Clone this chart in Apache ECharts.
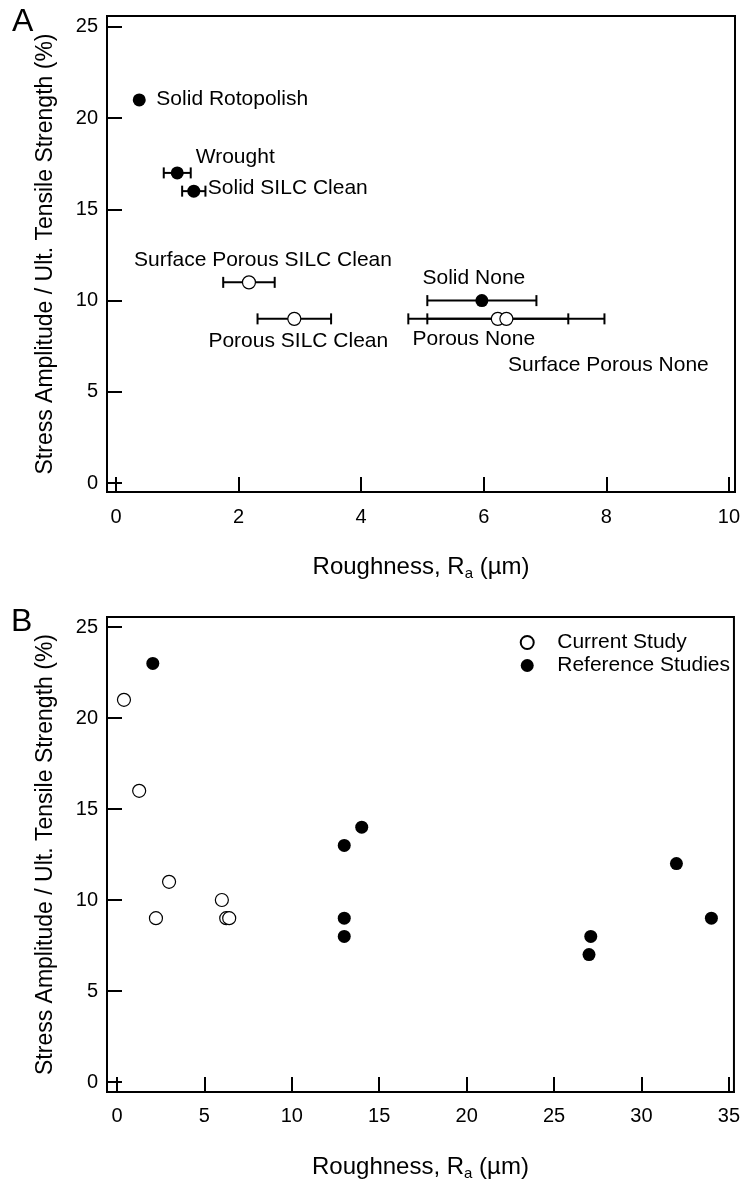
<!DOCTYPE html>
<html>
<head>
<meta charset="utf-8">
<script src="https://cdn.jsdelivr.net/npm/echarts@6/dist/echarts.min.js"></script>
<style>
  html, body { margin: 0; padding: 0; background: #fff; }
  #chart { width: 743px; height: 1182px; }
</style>
</head>
<body>
<div id="chart"></div>
<script>
// Panel A: surface finish groups, roughness Ra (um) vs stress ratio (%)
const solidNames = ['Solid Rotopolish', 'Wrought', 'Solid SILC Clean', 'Solid None'];
const solidRa = [0.38, 1.0, 1.27, 5.97];
const solidStress = [21, 17, 16, 10];
const solidRaErr = [0, 0.22, 0.19, 0.89];

const porousNames = ['Surface Porous SILC Clean', 'Porous SILC Clean', 'Porous None', 'Surface Porous None'];
const porousRa = [2.17, 2.91, 6.23, 6.37];
const porousStress = [11, 9, 9, 9];
const porousRaErr = [0.42, 0.6, 1.15, 1.6];

// Panel B: this study vs literature
const currentRa = [0.4, 1.27, 2.23, 2.98, 6.0, 6.25, 6.42];
const currentStress = [21, 16, 9, 11, 10, 9, 9];
const referenceRa = [2.05, 13, 14, 13, 13, 27, 27.1, 32, 34];
const referenceStress = [23, 13, 14, 9, 8, 7, 8, 12, 9];

const yTicks = [0, 5, 10, 15, 20, 25];
const xTicksA = [0, 2, 4, 6, 8, 10];
const xTicksB = [0, 5, 10, 15, 20, 25, 30, 35];

// label offsets (px from marker centre) for panel A annotations
const solidLabelOffset = [[93, -1], [58, -16], [94, -3], [-8, -22]];
const porousLabelOffset = [[14, -22], [4, 22], [-24, 20], [102, 46]];

const FONT = '"Liberation Sans", Arial, sans-serif';
const chart = echarts.init(document.getElementById('chart'), null, { renderer: 'canvas' });

function pointData(xs, ys, names, offsets) {
  return xs.map((x, i) => {
    const item = { value: [x, ys[i]] };
    if (names) {
      item.name = names[i];
      item.label = {
        show: true,
        formatter: names[i],
        position: 'inside',
        align: 'center',
        verticalAlign: 'middle',
        offset: offsets[i],
        color: '#000',
        fontSize: 21,
        fontFamily: FONT
      };
    }
    return item;
  });
}

function errData(xs, ys, errs) {
  const out = [];
  xs.forEach((x, i) => {
    if (errs[i] > 0) out.push([x - errs[i], x + errs[i], ys[i]]);
  });
  return out;
}

function renderErr(params, api) {
  const p1 = api.coord([api.value(0), api.value(2)]);
  const p2 = api.coord([api.value(1), api.value(2)]);
  const cap = 5.5;
  const style = { stroke: '#000', lineWidth: 2 };
  return {
    type: 'group',
    children: [
      { type: 'line', shape: { x1: p1[0], y1: p1[1], x2: p2[0], y2: p2[1] }, style },
      { type: 'line', shape: { x1: p1[0], y1: p1[1] - cap, x2: p1[0], y2: p1[1] + cap }, style },
      { type: 'line', shape: { x1: p2[0], y1: p2[1] - cap, x2: p2[0], y2: p2[1] + cap }, style }
    ]
  };
}

const axisCommon = {
  axisLine: { show: true, onZero: false, lineStyle: { color: '#000', width: 2 } },
  axisTick: { show: true, inside: true, length: 15, lineStyle: { color: '#000', width: 2 } },
  splitLine: { show: false },
  nameTextStyle: { color: '#000', fontSize: 23, fontFamily: FONT }
};

function xAxis(idx, min, max, ticks, margin) {
  return Object.assign({}, axisCommon, {
    type: 'value', gridIndex: idx, min, max,
    axisTick: Object.assign({}, axisCommon.axisTick, { customValues: ticks }),
    axisLabel: { customValues: ticks, color: '#000', fontSize: 20, fontFamily: FONT, margin },
    name: 'Roughness, R{sub|a} (µm)',
    nameLocation: 'middle',
    nameGap: 62,
    nameTextStyle: {
      color: '#000', fontSize: 24, fontFamily: FONT,
      rich: { sub: { fontSize: 15, fontFamily: FONT, color: '#000', padding: [12, 0, 0, 0] } }
    }
  });
}

function yAxis(idx, min, max) {
  return Object.assign({}, axisCommon, {
    type: 'value', gridIndex: idx, min, max,
    axisTick: Object.assign({}, axisCommon.axisTick, { customValues: yTicks }),
    axisLabel: { customValues: yTicks, color: '#000', fontSize: 20, fontFamily: FONT, margin: 9 },
    name: 'Stress Amplitude / Ult. Tensile Strength (%)',
    nameLocation: 'middle',
    nameGap: 50
  });
}

const solidStyle = { color: '#000', opacity: 1 };
const openStyle = { color: '#fff', borderColor: '#000', borderWidth: 1.2, opacity: 1 };

const option = {
  backgroundColor: '#fff',
  animation: false,
  textStyle: { fontFamily: FONT },
  grid: [
    { left: 107, top: 16, right: 6, bottom: 690, show: true, borderColor: '#000', borderWidth: 2 },
    { left: 107, top: 617, right: 7, bottom: 88, show: true, borderColor: '#000', borderWidth: 2 }
  ],
  xAxis: [
    xAxis(0, -0.146, 10.1, xTicksA, 15),
    xAxis(1, -0.57, 35.29, xTicksB, 14)
  ],
  yAxis: [
    yAxis(0, -0.49, 25.6),
    yAxis(1, -0.55, 25.55)
  ],
  legend: {
    right: 8,
    top: 627,
    orient: 'vertical',
    itemWidth: 50,
    itemHeight: 13,
    itemGap: 2,
    data: ['Current Study', 'Reference Studies'],
    textStyle: { color: '#000', fontSize: 21, fontFamily: FONT }
  },
  graphic: [
    { type: 'text', left: 12, top: 6, style: { text: 'A', fontSize: 32, fontFamily: FONT, fill: '#000' } },
    { type: 'text', left: 11, top: 606, style: { text: 'B', fontSize: 32, fontFamily: FONT, fill: '#000' } }
  ],
  series: [
    {
      type: 'custom', xAxisIndex: 0, yAxisIndex: 0,
      renderItem: renderErr,
      data: errData(solidRa, solidStress, solidRaErr).concat(errData(porousRa, porousStress, porousRaErr)),
      z: 1
    },
    {
      name: 'A solid', type: 'scatter', xAxisIndex: 0, yAxisIndex: 0,
      symbolSize: 13,
      itemStyle: solidStyle,
      data: pointData(solidRa, solidStress, solidNames, solidLabelOffset),
      z: 3
    },
    {
      name: 'A porous', type: 'scatter', xAxisIndex: 0, yAxisIndex: 0,
      symbolSize: 13,
      itemStyle: openStyle,
      data: pointData(porousRa, porousStress, porousNames, porousLabelOffset),
      z: 3
    },
    {
      name: 'Current Study', type: 'scatter', xAxisIndex: 1, yAxisIndex: 1,
      symbolSize: 13,
      itemStyle: openStyle,
      data: pointData(currentRa, currentStress),
      z: 3
    },
    {
      name: 'Reference Studies', type: 'scatter', xAxisIndex: 1, yAxisIndex: 1,
      symbolSize: 13,
      itemStyle: solidStyle,
      data: pointData(referenceRa, referenceStress),
      z: 3
    }
  ]
};

chart.setOption(option);
</script>
</body>
</html>
